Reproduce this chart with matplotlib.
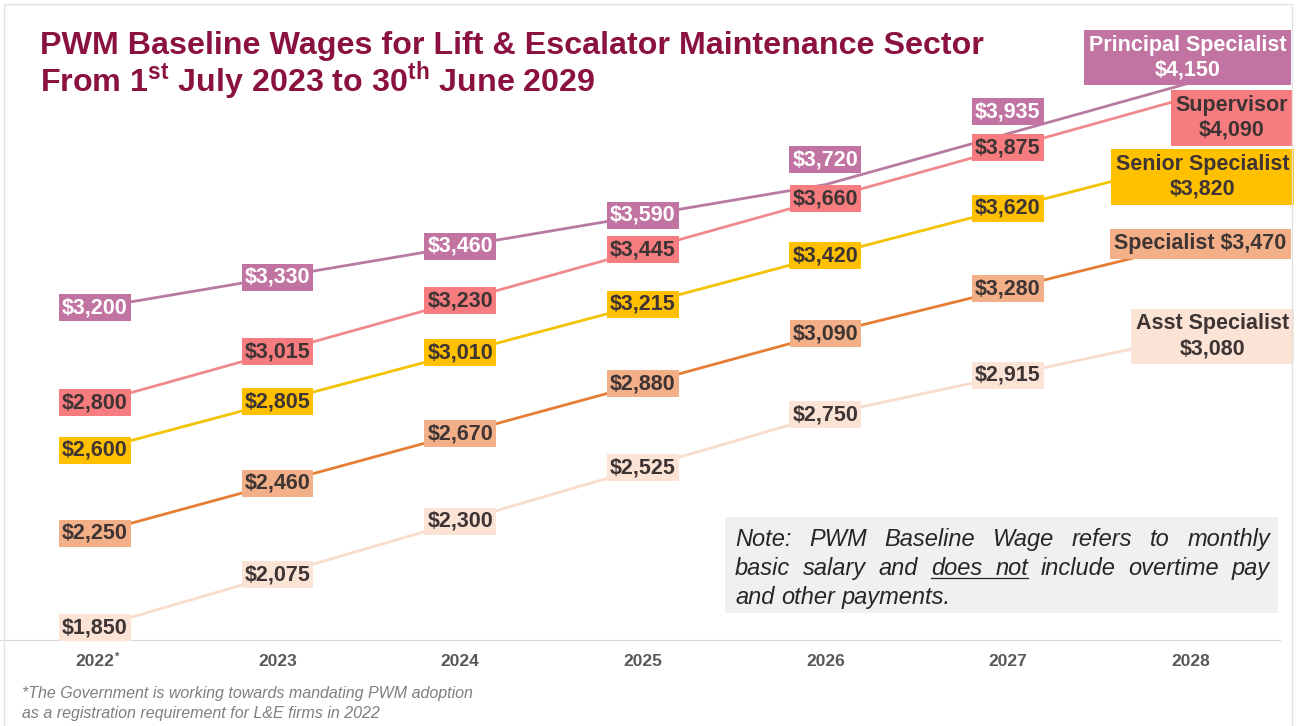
import matplotlib
matplotlib.use("Agg")
import matplotlib.pyplot as plt
from matplotlib.patches import Rectangle

plt.rcParams["font.family"] = ["Liberation Sans", "DejaVu Sans"]
plt.rcParams["mathtext.fontset"] = "custom"
plt.rcParams["mathtext.rm"] = "Liberation Sans:bold"
plt.rcParams["mathtext.bf"] = "Liberation Sans:bold"

# ---- data ----
year_labels = ["2022", "2023", "2024", "2025", "2026", "2027", "2028"]
footnoted_year = 0
roles = ["Principal Specialist", "Supervisor", "Senior Specialist", "Specialist", "Asst Specialist"]
principal = [3200, 3330, 3460, 3590, 3720, 3935, 4150]
supervisor = [2800, 3015, 3230, 3445, 3660, 3875, 4090]
senior = [2600, 2805, 3010, 3215, 3420, 3620, 3820]
specialist = [2250, 2460, 2670, 2880, 3090, 3280, 3470]
asst = [1850, 2075, 2300, 2525, 2750, 2915, 3080]
series = [principal, supervisor, senior, specialist, asst]

line_colors = ["#B67AA3", "#F08A8C", "#F2C400", "#E67D35", "#F8DCCC"]
box_colors = ["#C174A2", "#F67C7F", "#FFC000", "#F3B088", "#FBE4D6"]
text_colors = ["white", "#3E3434", "#3E3434", "#3E3434", "#3E3434"]

W, H = 1301, 726
def fx(px): return px / W
def fy(py): return 1 - py / H

fig = plt.figure(figsize=(W / 100, H / 100), dpi=100)
ax = fig.add_axes([0, fy(640), 1280 / W, 640 / H])
ax.set_xlim(-0.52, 6.49)
ax.set_ylim(1799, 4499)

xs = list(range(len(year_labels)))
for k, vals in enumerate(series):
    ax.plot(xs, vals, color=line_colors[k], lw=2.0, solid_capstyle="round", zorder=2)

# label offsets in pixels (dx, dy) where labels sit off the point
shift = {(0, 4): (0, 25), (0, 5): (0, 22)}
last_shift = [(-3, 25), (41, -21), (12, -16), (10, 0), (22, 0)]
box = lambda c, p: dict(boxstyle=f"square,pad={p}", fc=c, ec="none")

for k, vals in enumerate(series):
    for i, v in enumerate(vals):
        last = i == len(vals) - 1
        if last:
            if roles[k] == "Specialist":
                txt = f"{roles[k]} \\${v:,}"
            else:
                txt = f"{roles[k]}\n\\${v:,}"
            dx, dy = last_shift[k]
        else:
            txt = f"\\${v:,}"
            dx, dy = shift.get((k, i), (0, 0))
        ax.annotate(txt, (i, v), xytext=(dx, dy), textcoords="offset pixels",
                    ha="center", va="center", ma="center", fontsize=15.5,
                    fontweight="bold", color=text_colors[k], linespacing=1.25,
                    bbox=box(box_colors[k], 0.22 if last else 0.14),
                    zorder=4, annotation_clip=False)

for s in ("top", "right", "left"):
    ax.spines[s].set_visible(False)
ax.spines["bottom"].set_color("#D9D9D9")
ax.set_yticks([])
ax.set_xticks(xs)
ax.set_xticklabels(year_labels, fontsize=12.5, fontweight="bold", color="#595959")
ax.tick_params(axis="x", length=0, pad=10)
# superscript asterisk on the footnoted year
ax.annotate("*", (footnoted_year, 1799), xytext=(22, -17), textcoords="offset pixels",
            ha="center", va="center", fontsize=8, fontweight="bold", color="#595959",
            annotation_clip=False)

# title
tc = "#8B1240"
fig.text(fx(40), fy(54), "PWM Baseline Wages for Lift & Escalator Maintenance Sector",
         fontsize=23.2, fontweight="bold", color=tc, va="baseline")
fig.text(fx(40), fy(92), r"From 1$^{\mathrm{st}}$ July 2023 to 30$^{\mathrm{th}}$ June 2029",
         fontsize=23.2, fontweight="bold", color=tc, va="baseline")

# note box with justified text
fig.add_artist(Rectangle((fx(725), fy(613)), 553 / W, 96 / H, transform=fig.transFigure,
                         fc="#F0F0F0", ec="none", zorder=1))
fig.canvas.draw()
r = fig.canvas.get_renderer()
note_lines = [["Note:", "PWM", "Baseline", "Wage", "refers", "to", "monthly"],
              ["basic", "salary", "and", "does", "not", "include", "overtime", "pay"],
              ["and", "other", "payments."]]
x0, x1 = 735, 1270
nfs = 17
tmp1 = fig.text(0, 0, "a a", fontsize=nfs, style="italic")
tmp2 = fig.text(0, 0, "aa", fontsize=nfs, style="italic")
space_w = tmp1.get_window_extent(r).width - tmp2.get_window_extent(r).width
tmp1.remove()
tmp2.remove()
for li, words in enumerate(note_lines):
    base = 546 + li * 29
    arts = [fig.text(0, fy(base), w, fontsize=nfs, style="italic", color="#262626",
                     va="baseline", zorder=3) for w in words]
    widths = [a.get_window_extent(r).width for a in arts]
    if li < 2:
        gap = (x1 - x0 - sum(widths)) / (len(words) - 1)
    else:
        gap = space_w
    x = x0
    for w, a, wd in zip(words, arts, widths):
        a.set_x(fx(x))
        if li == 1 and w == "does":
            ul_start = x
        if li == 1 and w == "not":
            fig.add_artist(plt.Line2D([fx(ul_start), fx(x + wd)], [fy(base + 3), fy(base + 3)],
                                      transform=fig.transFigure, color="#262626", lw=0.9, zorder=3))
        x += wd + gap

# footnote
fig.text(fx(22), fy(698), "*The Government is working towards mandating PWM adoption",
         fontsize=11.5, style="italic", color="#7F7F7F", va="baseline")
fig.text(fx(22), fy(718), "as a registration requirement for L&E firms in 2022",
         fontsize=11.5, style="italic", color="#7F7F7F", va="baseline")

# faint outer frame
fig.add_artist(Rectangle((fx(4), fy(740)), 1288 / W, 736 / H, transform=fig.transFigure,
                         fc="none", ec="#E3E3E3", lw=1))

fig.savefig("out.png", dpi=100)
